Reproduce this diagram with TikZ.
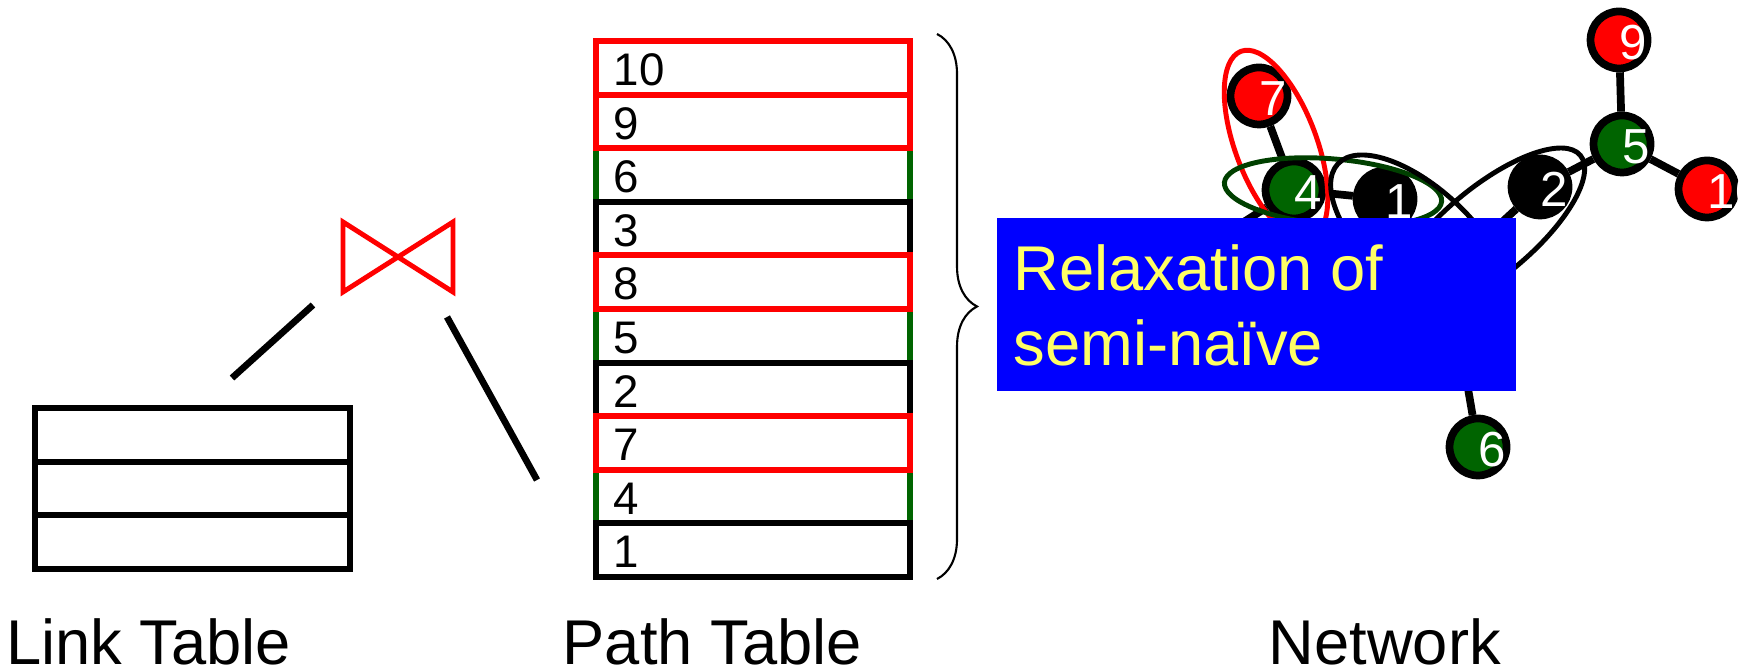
\documentclass[tikz,border=0pt]{standalone}
\usepackage{fontspec}
\setmainfont{Liberation Sans}
\usetikzlibrary{decorations.pathreplacing}
\definecolor{ngreen}{RGB}{0,100,0}
\definecolor{dgreen}{RGB}{0,64,0}
\definecolor{boxyellow}{RGB}{255,255,102}

\begin{document}
\begin{tikzpicture}
		[auto=left]
		\useasboundingbox (0,0) rectangle (17.39,6.68);
		\tikzstyle{lrow}=[rectangle, draw, line width=1.7pt, minimum width=3.15cm,
		minimum height=0.537cm, inner sep=0pt, outer sep=0pt, anchor=south west]
		\tikzstyle{prow}=[rectangle, draw, line width=1.7pt, minimum width=3.14cm,
		minimum height=0.536cm, inner sep=0pt, outer sep=0pt, anchor=south west]
		\tikzstyle{pnum}=[anchor=base west, inner sep=0pt, font=\fontsize{13}{15}\selectfont]
		\tikzstyle{titletext}=[anchor=base west, inner sep=0pt, font=\fontsize{18}{21.6}\selectfont]
		\tikzstyle{treeline}=[line width=1.9pt]
		\tikzstyle{vtx}=[circle, draw=black, line width=2.2pt, minimum size=0.57cm, inner sep=0pt]
		\tikzstyle{vnum}=[anchor=base west, inner sep=0pt, text=white, font=\fontsize{14}{16}\selectfont]
		\tikzstyle{ring}=[line width=1.4pt]
		%-----Link Table
		 \foreach \i in {0,1,2}
		 \node[lrow] (l\i) at (0.35,0.99+0.537*\i) {};
		 \node[titletext] (linkcap) at (0.053,0.03) {Link Table};
		%-----Path Table
		 \foreach \i/\lab/\col in {1/4/ngreen,4/5/ngreen,7/6/ngreen,0/1/black,3/2/black,6/3/black,2/7/red,5/8/red,8/9/red,9/10/red}{
		 \node[prow, draw=\col] (p\lab) at (5.96,0.91+0.536*\i) {};
		 \node[pnum] at ([shift={(0.17,0.09)}]p\lab.south west) {\lab};
		 }
		 \node[titletext] (pathcap) at (5.62,0.03) {Path Table};
		 \draw[decorate, decoration={brace, amplitude=0.4cm}, line width=0.6pt] (9.37,6.34) -- (9.37,0.89);
		%-----Join
		 \node[minimum width=1.10cm, minimum height=0.70cm, inner sep=0pt, outer sep=0pt] (join) at (3.98,4.11) {};
		 \draw[red, line width=1.4pt] (join.north west) -- (join.south east) -- (join.north east) -- (join.south west) -- cycle;
		 \coordinate (jl) at (3.13,3.63);
		 \coordinate (jr) at (4.47,3.51);
		 \coordinate (lt) at (2.32,2.90);
		 \coordinate (pt) at (5.37,1.88);
		 \draw[treeline] (lt) -- (jl);
		 \draw[treeline] (jr) -- (pt);
		%-----Network
		 \node[vtx, fill=red]    (n7)  at (12.59,5.72) {};
		 \node[vtx, fill=ngreen] (n4)  at (12.94,4.78) {};
		 \node[vtx, fill=black]  (n1)  at (13.85,4.69) {};
		 \node[vtx, fill=black]  (n2)  at (15.40,4.81) {};
		 \node[vtx, fill=ngreen] (n5)  at (16.22,5.24) {};
		 \node[vtx, fill=red]    (n9)  at (16.19,6.28) {};
		 \node[vtx, fill=red]    (n10) at (17.07,4.79) {};
		 \node[vtx, fill=ngreen] (n6)  at (14.78,2.21) {};
		 \coordinate (hA) at (14.48,3.96);
		 \coordinate (hB) at (11.84,4.08);
		 
		 \foreach \from/\to in {n7/n4,n4/n1,n5/n9,n5/n10,n5/n2,n2/hA,n6/hA,n4/hB}
		 \draw[line width=2.2pt] (\from) -- (\to);
		 \foreach \n in {7,4,1,2,5,9,10,6}
		 \node[vnum] at ([yshift=-0.20cm]n\n.center) {\n};
		 
		 \draw[ring, red, rotate around={-69.5:(12.76,5.23)}] (12.76,5.23) ellipse [x radius=1.00cm, y radius=0.407cm];
		 \draw[ring, dgreen, rotate around={-5:(13.33,4.76)}] (13.33,4.76) ellipse [x radius=1.09cm, y radius=0.33cm];
		 \draw[ring, rotate around={-42.8:(14.20,4.28)}] (14.20,4.28) ellipse [x radius=1.12cm, y radius=0.516cm];
		 \draw[ring, rotate around={39.7:(14.88,4.36)}] (14.88,4.36) ellipse [x radius=1.20cm, y radius=0.445cm];
		%-----Relaxation box
		 \node[fill=blue, minimum width=5.19cm, minimum height=1.73cm, inner sep=0pt, outer sep=0pt, anchor=south west] (relax) at (9.97,2.77) {};
		 \node[titletext, text=boxyellow] (relaxa) at (10.13,3.77) {Relaxation of};
		 \node[titletext, text=boxyellow] (relaxb) at (10.13,3.02) {semi-naïve};
		 \node[titletext] (netcap) at (12.68,0.03) {Network};
		 
		\end{tikzpicture}
\end{document}
